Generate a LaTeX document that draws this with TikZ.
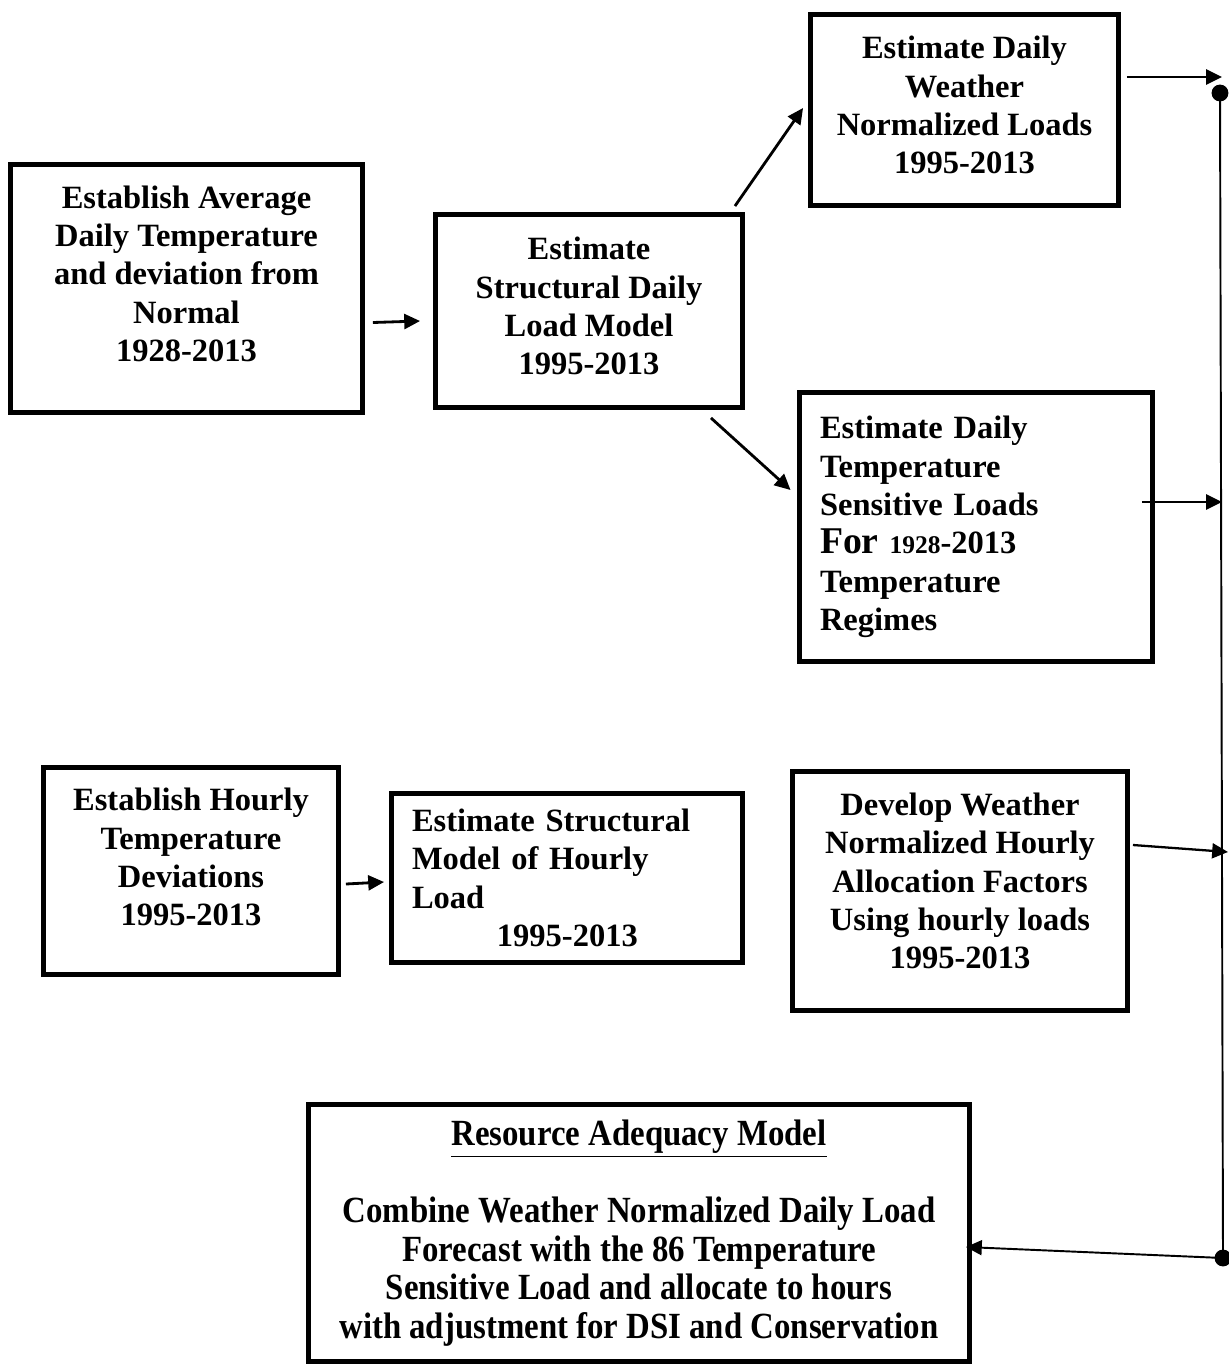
\documentclass[tikz,border=0pt]{standalone}
\usepackage{fontspec}
\setmainfont{Liberation Serif}
\newfontfamily\narrowfont{Liberation Serif}[FakeStretch=0.89]
\usetikzlibrary{arrows.meta,calc}
\tikzset{
  baseline = (current bounding box.center),
}
\begin{document}
\begin{tikzpicture}[
    x=0.02cm, y=-0.02cm,
    blk/.style={draw, line width=2.8pt, inner sep=0pt, align=center,
      font={\bfseries\fontsize{18.5}{21.8}\selectfont}},
    arr/.style={line width=1.6pt, -{Triangle[length=9pt,width=8.5pt]}},
    busline/.style={line width=1.1pt},
    ]
    \useasboundingbox (0,0) rectangle (1229,1366);
    \node[blk, minimum width=352*0.02cm, minimum height=248*0.02cm, text depth=17pt] (avgtemp) at (186.5,288.5)
    {Establish Average\\Daily Temperature\\and deviation from\\Normal\\1928-2013};
    \node[blk, minimum width=307*0.02cm, minimum height=193*0.02cm, text depth=5.6pt] (dailymodel) at (589,311)
    {Estimate\\Structural Daily\\Load Model\\1995-2013};
    \node[blk, minimum width=308*0.02cm, minimum height=191*0.02cm, text depth=5.6pt] (normloads) at (964.5,110)
    {Estimate Daily\\Weather\\Normalized Loads\\1995-2013};
    \node[blk, minimum width=353*0.02cm, minimum height=269*0.02cm, text width=312*0.02cm, align=left] (sensloads) at (976,527)
    {Estimate Daily\\Temperature\\Sensitive Loads\\{\fontsize{21.5}{21.8}\selectfont For} {\fontsize{14.5}{21.8}\selectfont 1928}-2013\\Temperature\\Regimes};
    \node[blk, minimum width=295*0.02cm, minimum height=207*0.02cm, text depth=16pt] (hourdev) at (191,871)
    {Establish Hourly\\Temperature\\Deviations\\1995-2013};
    \node[blk, minimum width=351*0.02cm, minimum height=169*0.02cm, text width=310*0.02cm, align=left] (hourmodel) at (567,878)
    {Estimate Structural\\Model of Hourly\\Load\\\hspace*{1.7cm}1995-2013};
    \node[blk, minimum width=335*0.02cm, minimum height=239*0.02cm, text depth=11.4pt] (allocfac) at (960,891)
    {Develop Weather\\Normalized Hourly\\Allocation Factors\\Using hourly loads\\1995-2013};
    \node[blk, minimum width=661*0.02cm, minimum height=257*0.02cm,
      font={\narrowfont\bfseries\fontsize{21}{21.9}\selectfont}] (adequacy) at (639,1233)
    {\underline{Resource Adequacy Model}\\[21.9pt]Combine Weather Normalized Daily Load\\Forecast with the 86 Temperature\\Sensitive Load and allocate to hours\\with adjustment for DSI and Conservation};

    \coordinate (bustop) at (1220,93);
    \coordinate (busbot) at (1223,1258);
    \coordinate (inC) at (1222,77);
    \coordinate (inD) at (1222,502);
    \coordinate (inG) at (1228,852);

    \draw[arr] ($(avgtemp.east)+(8,34)$) -- ($(dailymodel.west)+(-13,10)$);
    \draw[arr] ($(dailymodel.north east)+(-10,-6)$) -- ($(normloads.west)+(-5,-2)$);
    \draw[arr] ($(dailymodel.south east)+(-34,8)$) -- ($(sensloads.west)+(-6.5,-37)$);
    \draw[arr] ($(hourdev.east)+(5,13)$) -- ($(hourmodel.west)+(-5,4)$);
    \draw[arr, line width=1.3pt] ($(normloads.east)+(6,-33)$) -- (inC);
    \draw[arr, line width=1.3pt] ($(sensloads.east)+(-13,-25)$) -- (inD);
    \draw[arr, line width=1.3pt] ($(allocfac.east)+(3,-46)$) -- (inG);
    \draw[busline] (bustop) -- (busbot);
    \fill (bustop) circle (4.8pt);
    \fill (busbot) circle (4.8pt);
    \draw[arr, line width=1.1pt] (busbot) -- ($(adequacy.east)+(-6,14)$);
  \end{tikzpicture}
\end{document}
